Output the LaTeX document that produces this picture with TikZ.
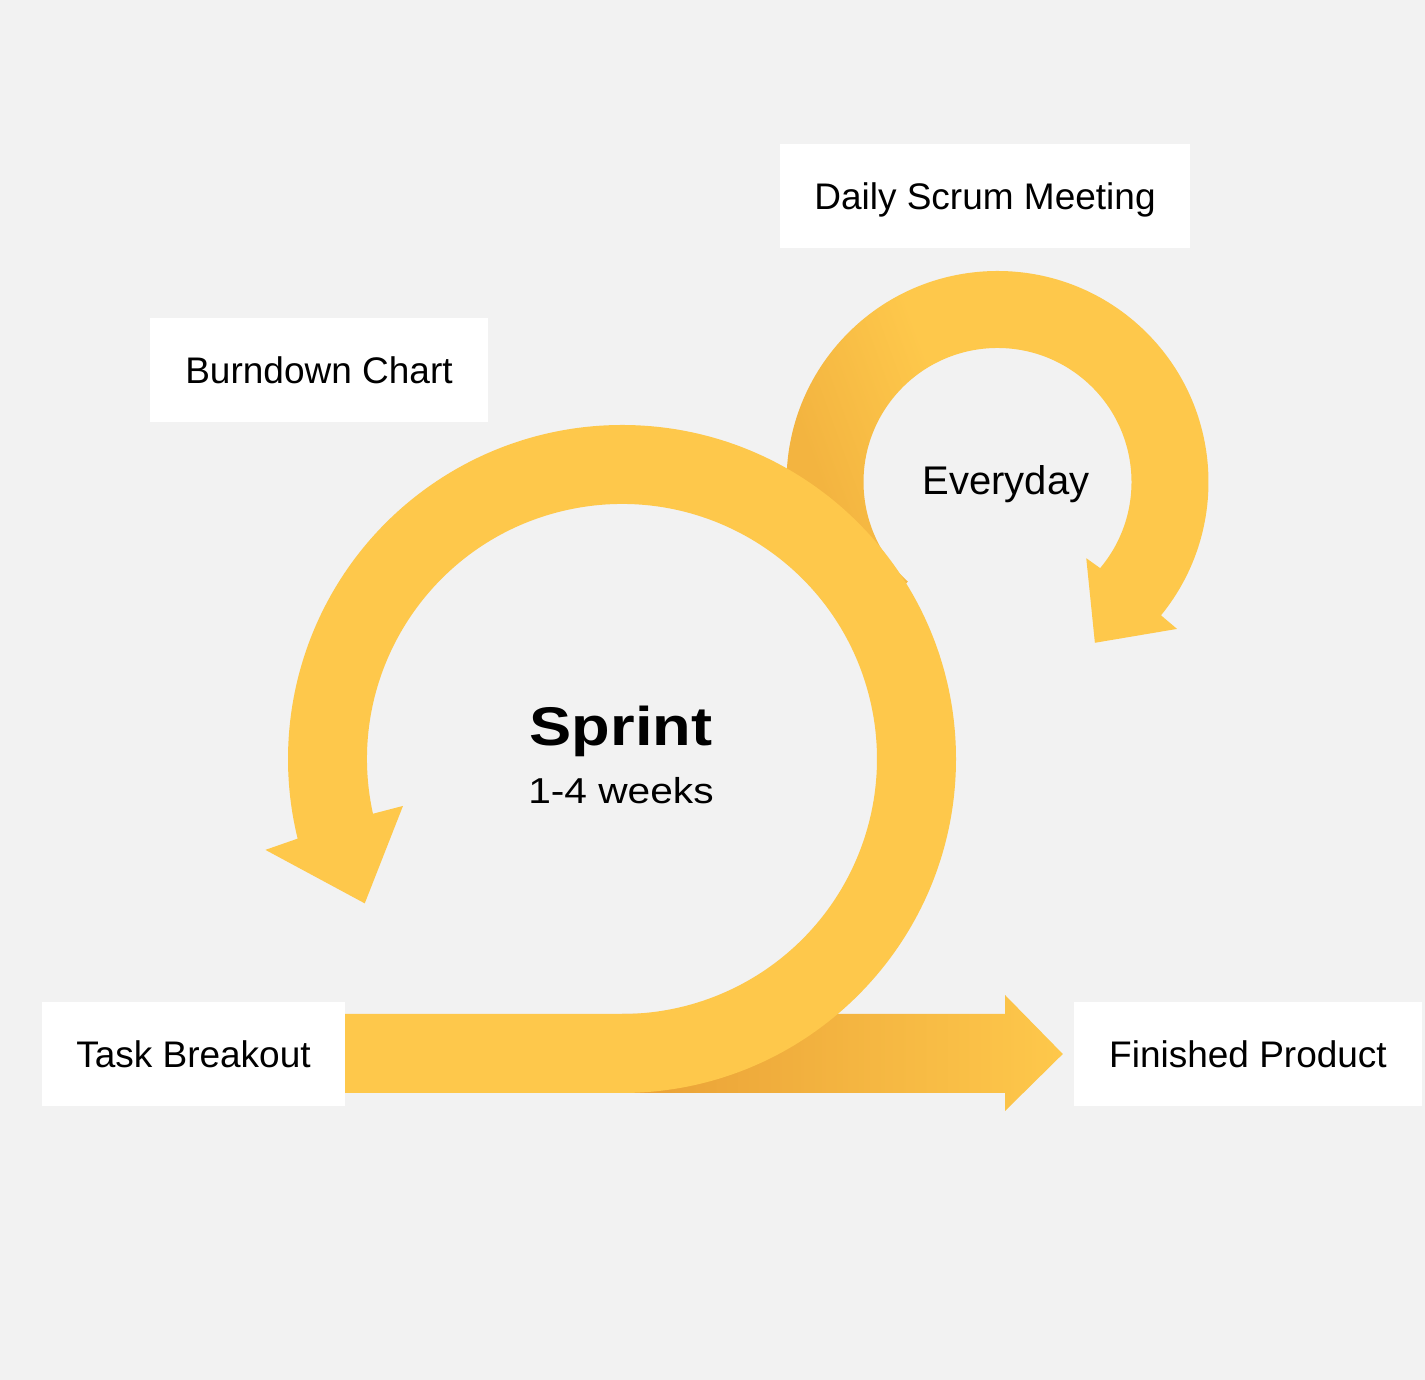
\documentclass[tikz,border=0pt]{standalone}
\usepackage{fontspec}
\setmainfont{Liberation Sans}
\newfontfamily\widereg[FakeStretch=1.13]{Liberation Sans}
\newfontfamily\widebold[FakeStretch=1.16]{Liberation Sans}
\definecolor{bgc}{HTML}{F2F2F2}
\definecolor{bright}{HTML}{FEC84B}
\definecolor{shadeA}{HTML}{F3B440}
\definecolor{gdark}{HTML}{E9A036}
\pgfdeclarehorizontalshading{smallfade}{100bp}{color(0bp)=(shadeA); color(30bp)=(shadeA); color(46bp)=(bright); color(100bp)=(bright)}
\begin{document}
\begin{tikzpicture}[x=1pt,y=1pt,
  tagbox/.style={fill=white, inner sep=0pt, text height=27pt, text depth=0pt,
    minimum height=104pt, font=\fontsize{37}{44}\selectfont},
  freetext/.style={anchor=base, inner sep=0pt}
]
\useasboundingbox (0,0) rectangle (1425,1380);
\fill[bgc] (0,0) rectangle (1425,1380);
\coordinate (C1) at (622,621);
\coordinate (C2) at (997.5,898);

% boxes
\node[tagbox, minimum width=410] (daily) at (985,1184) {Daily Scrum Meeting};
\node[tagbox, minimum width=338] (burn) at (319,1010) {Burndown Chart};
\node[tagbox, minimum width=303] (task) at (193.5,326) {Task Breakout};
\node[tagbox, minimum width=348] (fin) at (1248,326) {Finished Product};

% gradient arrow to finished product
\shade[left color=gdark, right color=bright]
  ([shift={(-90:334)}]C1) -- (1005,287) -- (1005,269) -- ([xshift=-11]fin.west)
  -- (1005,385) -- (1005,366) -- ([shift={(-90:255)}]C1) -- cycle;

% small daily loop
\shade[shading=smallfade, shading angle=20]
  ([shift={(228:211)}]C2) arc[start angle=228, end angle=-39.2, radius=211]
  -- ([shift={(-39.3:232)}]C2) -- ([shift={(-58.8:188)}]C2)
  -- ([shift={(-40.65:117)}]C2) -- ([shift={(-40:134)}]C2)
  arc[start angle=-40, end angle=228, radius=134] -- cycle;

% big sprint loop
\fill[bright]
  ([yshift=-39]task.east) -- ([shift={(-90:334)}]C1)
  arc[start angle=-90, end angle=193.8, radius=334]
  -- ([shift={(194.3:368)}]C1) -- ([shift={(209.3:295)}]C1)
  -- ([shift={(192.1:224)}]C1) -- ([shift={(192.4:255)}]C1)
  arc[start angle=192.4, end angle=-90, radius=255]
  -- ([yshift=40]task.east) -- cycle;

% free texts
\node[freetext, font=\fontsize{40}{46}\selectfont] (every) at (1006,885) {Everyday};
\node[freetext, font=\widebold\bfseries\fontsize{54.5}{60}\selectfont] (sprint) at (621,634.5) {Sprint};
\node[freetext, font=\widereg\fontsize{36}{42}\selectfont] (weeks) at (621,576) {1-4 weeks};
\end{tikzpicture}
\end{document}
